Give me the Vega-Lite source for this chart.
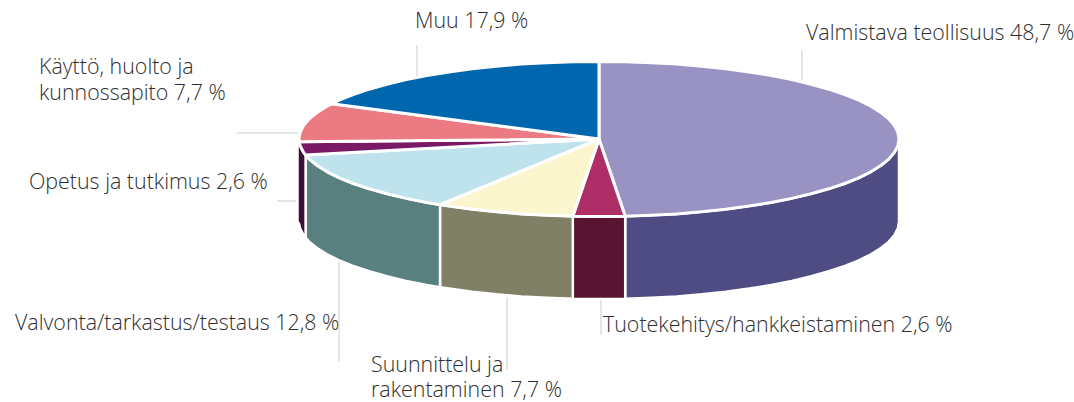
{"$schema":"https://vega.github.io/schema/vega-lite/v6.json","width":1074,"height":402,"padding":0,"autosize":{"type":"none"},"background":"white","config":{"view":{"stroke":null}},
"datasets":{
"walls":[
{"s":"Valmistava reuna","x":899,"y":139,"y2":221.5},{"s":"Valmistava reuna","x":897.9,"y":145.8,"y2":228.3},{"s":"Valmistava reuna","x":894.4,"y":152.5,"y2":235},{"s":"Valmistava reuna","x":888.8,"y":159.1,"y2":241.6},{"s":"Valmistava reuna","x":880.9,"y":165.5,"y2":248},{"s":"Valmistava reuna","x":870.9,"y":171.8,"y2":254.3},{"s":"Valmistava reuna","x":858.8,"y":177.8,"y2":260.3},{"s":"Valmistava reuna","x":844.8,"y":183.5,"y2":266},{"s":"Valmistava reuna","x":828.8,"y":188.8,"y2":271.3},{"s":"Valmistava reuna","x":811.1,"y":193.8,"y2":276.3},{"s":"Valmistava reuna","x":791.8,"y":198.4,"y2":280.9},{"s":"Valmistava reuna","x":771.1,"y":202.5,"y2":285},{"s":"Valmistava reuna","x":749,"y":206.1,"y2":288.6},{"s":"Valmistava reuna","x":725.8,"y":209.2,"y2":291.7},{"s":"Valmistava reuna","x":701.6,"y":211.8,"y2":294.3},{"s":"Valmistava reuna","x":676.6,"y":213.9,"y2":296.4},{"s":"Valmistava reuna","x":651.1,"y":215.3,"y2":297.8},{"s":"Valmistava reuna","x":625.2,"y":216.2,"y2":298.7},
{"s":"Tuotekehitys reuna","x":625.2,"y":216.2,"y2":298.7},{"s":"Tuotekehitys reuna","x":599,"y":216.5,"y2":299},{"s":"Tuotekehitys reuna","x":572.8,"y":216.2,"y2":298.7},
{"s":"Suunnittelu reuna","x":572.8,"y":216.2,"y2":298.7},{"s":"Suunnittelu reuna","x":546.9,"y":215.3,"y2":297.8},{"s":"Suunnittelu reuna","x":521.4,"y":213.9,"y2":296.4},{"s":"Suunnittelu reuna","x":496.4,"y":211.8,"y2":294.3},{"s":"Suunnittelu reuna","x":472.2,"y":209.2,"y2":291.7},{"s":"Suunnittelu reuna","x":449,"y":206.1,"y2":288.6},{"s":"Suunnittelu reuna","x":440,"y":204.7,"y2":287.2},
{"s":"Valvonta reuna","x":440,"y":204.7,"y2":287.2},{"s":"Valvonta reuna","x":426.9,"y":202.5,"y2":285},{"s":"Valvonta reuna","x":406.2,"y":198.4,"y2":280.9},{"s":"Valvonta reuna","x":386.9,"y":193.8,"y2":276.3},{"s":"Valvonta reuna","x":369.2,"y":188.8,"y2":271.3},{"s":"Valvonta reuna","x":353.2,"y":183.5,"y2":266},{"s":"Valvonta reuna","x":339.2,"y":177.8,"y2":260.3},{"s":"Valvonta reuna","x":327.1,"y":171.8,"y2":254.3},{"s":"Valvonta reuna","x":317.1,"y":165.5,"y2":248},{"s":"Valvonta reuna","x":309.2,"y":159.1,"y2":241.6},{"s":"Valvonta reuna","x":305.6,"y":155.1,"y2":237.6},
{"s":"Opetus reuna","x":305.6,"y":155.1,"y2":237.6},{"s":"Opetus reuna","x":303.6,"y":152.5,"y2":235},{"s":"Opetus reuna","x":300.1,"y":145.8,"y2":228.3},{"s":"Opetus reuna","x":299.2,"y":141.7,"y2":224.2},{"s":"Opetus reuna","x":297.5,"y":139,"y2":221.5}
],
"tops":[
{"s":"Valmistava","i":0,"x":599,"y":139},{"s":"Valmistava","i":1,"x":599,"y":61.5},{"s":"Valmistava","i":2,"x":625.2,"y":61.8},{"s":"Valmistava","i":3,"x":651.1,"y":62.7},{"s":"Valmistava","i":4,"x":676.6,"y":64.1},{"s":"Valmistava","i":5,"x":701.6,"y":66.2},{"s":"Valmistava","i":6,"x":725.8,"y":68.8},{"s":"Valmistava","i":7,"x":749,"y":71.9},{"s":"Valmistava","i":8,"x":771.1,"y":75.5},{"s":"Valmistava","i":9,"x":791.8,"y":79.6},{"s":"Valmistava","i":10,"x":811.1,"y":84.2},{"s":"Valmistava","i":11,"x":828.8,"y":89.2},{"s":"Valmistava","i":12,"x":844.8,"y":94.5},{"s":"Valmistava","i":13,"x":858.8,"y":100.2},{"s":"Valmistava","i":14,"x":870.9,"y":106.2},{"s":"Valmistava","i":15,"x":880.9,"y":112.5},{"s":"Valmistava","i":16,"x":888.8,"y":118.9},{"s":"Valmistava","i":17,"x":894.4,"y":125.5},{"s":"Valmistava","i":18,"x":897.9,"y":132.2},{"s":"Valmistava","i":19,"x":899,"y":139},{"s":"Valmistava","i":20,"x":897.9,"y":145.8},{"s":"Valmistava","i":21,"x":894.4,"y":152.5},{"s":"Valmistava","i":22,"x":888.8,"y":159.1},{"s":"Valmistava","i":23,"x":880.9,"y":165.5},{"s":"Valmistava","i":24,"x":870.9,"y":171.8},{"s":"Valmistava","i":25,"x":858.8,"y":177.8},{"s":"Valmistava","i":26,"x":844.8,"y":183.5},{"s":"Valmistava","i":27,"x":828.8,"y":188.8},{"s":"Valmistava","i":28,"x":811.1,"y":193.8},{"s":"Valmistava","i":29,"x":791.8,"y":198.4},{"s":"Valmistava","i":30,"x":771.1,"y":202.5},{"s":"Valmistava","i":31,"x":749,"y":206.1},{"s":"Valmistava","i":32,"x":725.8,"y":209.2},{"s":"Valmistava","i":33,"x":701.6,"y":211.8},{"s":"Valmistava","i":34,"x":676.6,"y":213.9},{"s":"Valmistava","i":35,"x":651.1,"y":215.3},{"s":"Valmistava","i":36,"x":625.2,"y":216.2},
{"s":"Tuotekehitys","i":0,"x":599,"y":139},{"s":"Tuotekehitys","i":1,"x":625.2,"y":216.2},{"s":"Tuotekehitys","i":2,"x":599,"y":216.5},{"s":"Tuotekehitys","i":3,"x":572.8,"y":216.2},
{"s":"Suunnittelu","i":0,"x":599,"y":139},{"s":"Suunnittelu","i":1,"x":572.8,"y":216.2},{"s":"Suunnittelu","i":2,"x":546.9,"y":215.3},{"s":"Suunnittelu","i":3,"x":521.4,"y":213.9},{"s":"Suunnittelu","i":4,"x":496.4,"y":211.8},{"s":"Suunnittelu","i":5,"x":472.2,"y":209.2},{"s":"Suunnittelu","i":6,"x":449,"y":206.1},{"s":"Suunnittelu","i":7,"x":440,"y":204.7},
{"s":"Valvonta","i":0,"x":599,"y":139},{"s":"Valvonta","i":1,"x":440,"y":204.7},{"s":"Valvonta","i":2,"x":426.9,"y":202.5},{"s":"Valvonta","i":3,"x":406.2,"y":198.4},{"s":"Valvonta","i":4,"x":386.9,"y":193.8},{"s":"Valvonta","i":5,"x":369.2,"y":188.8},{"s":"Valvonta","i":6,"x":353.2,"y":183.5},{"s":"Valvonta","i":7,"x":339.2,"y":177.8},{"s":"Valvonta","i":8,"x":327.1,"y":171.8},{"s":"Valvonta","i":9,"x":317.1,"y":165.5},{"s":"Valvonta","i":10,"x":309.2,"y":159.1},{"s":"Valvonta","i":11,"x":305.6,"y":155.1},
{"s":"Opetus","i":0,"x":599,"y":139},{"s":"Opetus","i":1,"x":305.6,"y":155.1},{"s":"Opetus","i":2,"x":303.6,"y":152.5},{"s":"Opetus","i":3,"x":300.1,"y":145.8},{"s":"Opetus","i":4,"x":299.2,"y":141.7},
{"s":"Käyttö","i":0,"x":599,"y":139},{"s":"Käyttö","i":1,"x":299.2,"y":141.7},{"s":"Käyttö","i":2,"x":299,"y":139},{"s":"Käyttö","i":3,"x":300.1,"y":132.2},{"s":"Käyttö","i":4,"x":303.6,"y":125.5},{"s":"Käyttö","i":5,"x":309.2,"y":118.9},{"s":"Käyttö","i":6,"x":317.1,"y":112.5},{"s":"Käyttö","i":7,"x":327.1,"y":106.2},{"s":"Käyttö","i":8,"x":331.7,"y":103.8},
{"s":"Muu","i":0,"x":599,"y":139},{"s":"Muu","i":1,"x":331.7,"y":103.8},{"s":"Muu","i":2,"x":339.2,"y":100.2},{"s":"Muu","i":3,"x":353.2,"y":94.5},{"s":"Muu","i":4,"x":369.2,"y":89.2},{"s":"Muu","i":5,"x":386.9,"y":84.2},{"s":"Muu","i":6,"x":406.2,"y":79.6},{"s":"Muu","i":7,"x":426.9,"y":75.5},{"s":"Muu","i":8,"x":449,"y":71.9},{"s":"Muu","i":9,"x":472.2,"y":68.8},{"s":"Muu","i":10,"x":496.4,"y":66.2},{"s":"Muu","i":11,"x":521.4,"y":64.1},{"s":"Muu","i":12,"x":546.9,"y":62.7},{"s":"Muu","i":13,"x":572.8,"y":61.8},{"s":"Muu","i":14,"x":599,"y":61.5}
],
"leaders":[
{"x":802,"y":50,"x2":802,"y2":89},{"x":417,"y":45,"x2":417,"y2":76},{"x":237,"y":133,"x2":299,"y2":133},{"x":277,"y":201,"x2":297,"y2":201},{"x":339,"y":261,"x2":339,"y2":362},{"x":507,"y":297,"x2":507,"y2":370},{"x":601,"y":296,"x2":601,"y2":335}
],
"labels":[
{"t":"Valmistava teollisuus 48,7 %","x":806,"y":40},{"t":"Muu 17,9 %","x":415,"y":28},{"t":"Käyttö, huolto ja","x":39,"y":74},{"t":"kunnossapito 7,7 %","x":39,"y":100},{"t":"Opetus ja tutkimus 2,6 %","x":29,"y":189},{"t":"Valvonta/tarkastus/testaus 12,8 %","x":15,"y":330},{"t":"Suunnittelu ja","x":371,"y":372},{"t":"rakentaminen 7,7 %","x":371,"y":397},{"t":"Tuotekehitys/hankkeistaminen 2,6 %","x":603,"y":332}
]},
"encoding":{"x":{"field":"x","type":"quantitative","axis":null,"scale":{"domain":[0,1074],"nice":false,"zero":false}},"y":{"field":"y","type":"quantitative","axis":null,"scale":{"domain":[0,402],"reverse":true,"nice":false,"zero":false}}},
"layer":[
{"data":{"name":"leaders"},"mark":{"type":"rule","stroke":"#e6e6e6","strokeWidth":2},"encoding":{"x2":{"field":"x2"},"y2":{"field":"y2"}}},
{"data":{"name":"walls"},"mark":{"type":"area","stroke":"white","strokeWidth":2.5,"strokeJoin":"round"},"encoding":{"y2":{"field":"y2"},"fill":{"field":"s","type":"nominal","legend":null,"scale":{"domain":["Valmistava reuna","Tuotekehitys reuna","Suunnittelu reuna","Valvonta reuna","Opetus reuna","Valmistava","Tuotekehitys","Suunnittelu","Valvonta","Opetus","Käyttö","Muu"],"range":["#4e4c82","#581431","#808066","#58807f","#3c0f35","#9893c3","#ae2f68","#fcf6cf","#bfe3ec","#7a1a66","#ec7a82","#0066ad"]}}}},
{"data":{"name":"tops"},"mark":{"type":"line","stroke":"white","strokeWidth":3,"strokeJoin":"round","interpolate":"linear-closed"},"encoding":{"order":{"field":"i","type":"quantitative"},"fill":{"field":"s","type":"nominal","legend":null}}},
{"data":{"name":"labels"},"mark":{"type":"text","align":"left","baseline":"alphabetic","font":"Open Sans","fontWeight":300,"fontSize":21.4,"fill":"#2e2e2e"},"encoding":{"text":{"field":"t"}}}
]}
